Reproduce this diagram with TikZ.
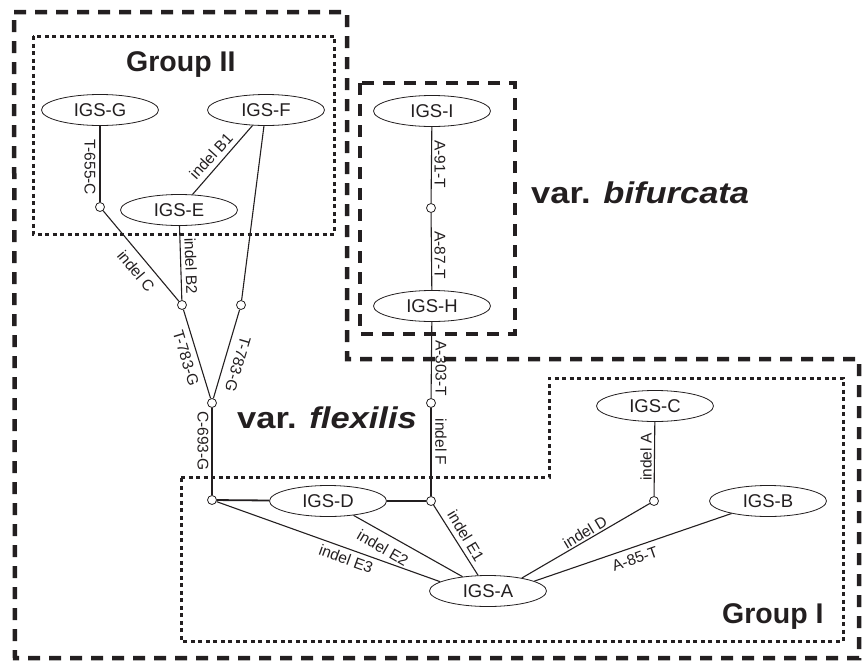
\documentclass[tikz,border=0pt]{standalone}
\usepackage{fontspec}
\setmainfont{Liberation Sans}
\newfontfamily\widesans[FakeStretch=1.15]{Liberation Sans}
\usetikzlibrary{shapes.geometric}
\definecolor{ink}{RGB}{35,31,32}
\newcommand{\igsfont}{\fontsize{18.5}{20}\selectfont}
\newcommand{\mutfont}{\fontsize{15.5}{17}\selectfont}
\newcommand{\grpfont}{\fontsize{28.5}{30}\selectfont\bfseries}
\newcommand{\varfont}{\widesans\fontsize{30}{32}\selectfont\bfseries}
\begin{document}
\begin{tikzpicture}[x=1pt,y=-1pt,
  every node/.style={text=ink},
  igs/.style={ellipse, draw=ink, line width=0.8pt, minimum width=117pt,
              minimum height=31pt, inner sep=0pt, font=\igsfont},
  junction/.style={circle, draw=ink, fill=white, line width=0.8pt,
                   minimum size=9pt, inner sep=0pt},
  link/.style={draw=ink, line width=1.1pt},
  heavylink/.style={draw=ink, line width=1.8pt},
  mut/.style={font=\mutfont, inner sep=0pt},
  bigdash/.style={draw=ink, line width=4.5pt, dash pattern=on 12pt off 9pt},
  dotbox/.style={draw=ink, line width=3pt, dash pattern=on 4pt off 3.5pt},
]
\useasboundingbox (0,0) rectangle (863,667);

% variety and group outlines
\draw[bigdash] (14,12) -- (347,12) -- (347,359) -- (859,359) -- (859,658)
  -- (15,658) -- cycle;
\draw[bigdash] (360,83) rectangle (515,334);
\draw[dotbox] (33,36) rectangle (334,234);
\draw[dotbox] (181,477) -- (549,477) -- (549,378) -- (843,378) -- (843,641)
  -- (181,641) -- cycle;

% haplotypes
\node[igs] (G) at (100,110) {IGS-G};
\node[igs] (F) at (266,110) {IGS-F};
\node[igs] (E) at (179,210) {IGS-E};
\node[igs] (I) at (432,111) {IGS-I};
\node[igs] (H) at (432,306) {IGS-H};
\node[igs] (D) at (328,501) {IGS-D};
\node[igs] (A) at (488,591) {IGS-A};
\node[igs] (C) at (655,406) {IGS-C};
\node[igs] (B) at (768,501) {IGS-B};

% missing intermediates
\node[junction] (p1) at (100,207) {};
\node[junction] (p2) at (182,305) {};
\node[junction] (p3) at (241,305) {};
\node[junction] (p4) at (212,403) {};
\node[junction] (p5) at (212,500) {};
\node[junction] (p6) at (431,501) {};
\node[junction] (p7) at (431,403) {};
\node[junction] (p8) at (431,208) {};
\node[junction] (p9) at (654,501) {};

% mutational steps
\draw[link] (G) -- (p1);
\draw[link] (E) -- (F);
\draw[link] (F) -- (p3);
\draw[link] (E) -- (p2);
\draw[link] (p1) -- (p2);
\draw[link] (p2) -- (p4);
\draw[link] (p3) -- (p4);
\draw[link] (p4) -- (p5);
\draw[heavylink] (p5) -- (D);
\draw[heavylink] (D) -- (p6);
\draw[link] (I) -- (p8);
\draw[link] (p8) -- (H);
\draw[link] (H) -- (p7);
\draw[link] (p7) -- (p6);
\draw[link] (p6) -- (A);
\draw[link] (D) -- (A);
\draw[link] (p5) -- (A.169);
\draw[link] (C) -- (p9);
\draw[link] (p9) -- (A.21);
\draw[link] (B) -- (A.12);

% step labels
\node[mut, rotate=-90] (lGp1) at (90,167) {T-655-C};
\node[mut, rotate=48] (lEF) at (211,156) {indel B1};
\node[mut, rotate=-50] (lp1p2) at (136,271) {indel C};
\node[mut, rotate=-88] (lEp2) at (191,266) {indel B2};
\node[mut, rotate=-73] (lp2p4) at (186,358) {T-783-G};
\node[mut, rotate=-106.5] (lp3p4) at (238,364) {T-783-G};
\node[mut, rotate=-90] (lp4p5) at (203,441) {C-693-G};
\node[mut, rotate=-90] (lIp8) at (440,164) {A-91-T};
\node[mut, rotate=-90] (lp8H) at (440,255) {A-87-T};
\node[mut, rotate=-90] (lHp7) at (441,368) {A-303-T};
\node[mut, rotate=-90] (lp7p6) at (441,442) {indel F};
\node[mut, rotate=-59] (lp6A) at (466,536) {indel E1};
\node[mut, rotate=-30] (lDA) at (383,548) {indel E2};
\node[mut, rotate=-20] (lp5A) at (346,559) {indel E3};
\node[mut, rotate=90] (lCp9) at (646,457) {indel A};
\node[mut, rotate=31] (lp9A) at (585,532) {indel D};
\node[mut, rotate=19.5] (lBA) at (635,559) {A-85-T};

% group and variety titles
\node[font=\grpfont, anchor=base west, inner sep=0pt] (g2) at (126,71) {Group II};
\node[font=\grpfont, anchor=base west, inner sep=0pt] (g1) at (722,623) {Group I};
\node[font=\varfont, anchor=base west, inner sep=0pt] (vb) at (531,203)
  {var. \itshape bifurcata};
\node[font=\varfont, anchor=base west, inner sep=0pt] (vf) at (237,428)
  {var. \itshape flexilis};
\end{tikzpicture}
\end{document}
